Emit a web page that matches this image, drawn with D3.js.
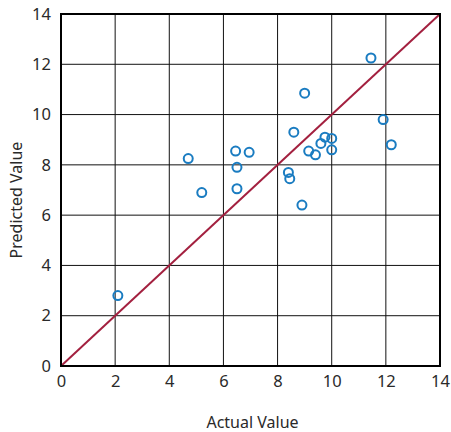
<!DOCTYPE html>
<html><head><meta charset="utf-8">
<script src="https://cdn.jsdelivr.net/npm/d3@7"></script>
<style>body{margin:0;background:#fff}svg{display:block}text{font-family:"Noto Sans",sans-serif;fill:#2a2a2a}</style>
</head><body><svg id="c" width="451" height="432"></svg>
<script>
const actual = [2.1,4.7,5.2,6.45,6.5,6.5,6.95,8.4,8.45,8.6,8.9,9.0,9.15,9.4,9.6,9.75,10.0,10.0,11.45,11.9,12.2];
const predicted = [2.8,8.25,6.9,8.55,7.9,7.05,8.5,7.7,7.45,9.3,6.4,10.85,8.55,8.4,8.85,9.1,9.05,8.6,12.25,9.8,8.8];
const ticks = [0,2,4,6,8,10,12,14];
const xTitle = "Actual Value", yTitle = "Predicted Value";

const svg = d3.select("#c");
const L=61,R=440,T=14,B=366;
const x = d3.scaleLinear().domain([0,14]).range([L,R]);
const y = d3.scaleLinear().domain([0,14]).range([B,T]);

const grid = svg.append("g");
grid.selectAll(".vx").data(ticks.slice(1,-1)).join("line")
  .attr("x1",d=>x(d)).attr("x2",d=>x(d)).attr("y1",T).attr("y2",B)
  .attr("stroke","#111").attr("stroke-width",1);
grid.selectAll(".hy").data(ticks.slice(1,-1)).join("line")
  .attr("y1",d=>y(d)).attr("y2",d=>y(d)).attr("x1",L).attr("x2",R)
  .attr("stroke","#111").attr("stroke-width",1);

svg.append("line").attr("x1",x(0)).attr("y1",y(0)).attr("x2",x(14)).attr("y2",y(14))
  .attr("stroke","#a3203f").attr("stroke-width",2);

svg.append("rect").attr("x",L).attr("y",T).attr("width",R-L).attr("height",B-T)
  .attr("fill","none").attr("stroke","#000").attr("stroke-width",2);

const xa = svg.append("g").attr("transform",`translate(0,${B})`)
  .call(d3.axisBottom(x).tickValues(ticks).tickSize(0).tickPadding(9));
const ya = svg.append("g").attr("transform",`translate(${L},0)`)
  .call(d3.axisLeft(y).tickValues(ticks).tickSize(0).tickPadding(10));
[xa,ya].forEach(a=>{a.select(".domain").remove();a.selectAll("text").style("font-size","16.5px").style("fill","#2a2a2a").style("font-family","'Noto Sans',sans-serif");});

svg.selectAll(".pt").data(actual.map((a,i)=>[a,predicted[i]])).join("circle")
  .attr("cx",d=>x(d[0])).attr("cy",d=>y(d[1])).attr("r",4.5)
  .attr("fill","none").attr("stroke","#1a7cc1").attr("stroke-width",2);

svg.append("text").attr("x",(L+R)/2 + 2).attr("y",428).attr("text-anchor","middle")
  .style("font-size","16px").text(xTitle);
svg.append("text").attr("transform",`translate(22,${(T+B)/2 + 10}) rotate(-90)`).attr("text-anchor","middle")
  .style("font-size","16px").text(yTitle);
</script></body></html>
